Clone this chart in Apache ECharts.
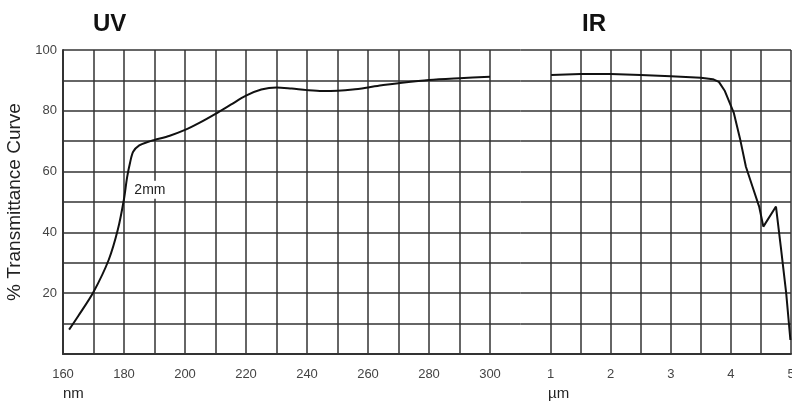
<!DOCTYPE html>
<html><head><meta charset="utf-8">
<script src="https://cdn.jsdelivr.net/npm/echarts@6/dist/echarts.min.js"></script>
<style>html,body{margin:0;padding:0;background:#fff}#c{width:792px;height:404px}</style>
</head><body><div id="c"></div>
<script>
// UV region: wavelength (nm) vs % transmittance
const uvWavelength = [162,165,170,175,178,180,181,182,183,185,188,190,195,200,205,210,215,220,225,230,235,240,245,250,255,260,265,270,280,290,300];
const uvTransmit   = [8,12.5,20.4,31,41,51,58,63,66.5,68.6,69.8,70.4,71.8,73.7,76.2,79,82,85,87,87.7,87.3,86.8,86.5,86.6,87,87.7,88.5,89.1,90.1,90.7,91.2];
// IR region: wavelength (µm) vs % transmittance
const irWavelength = [1.01,1.5,2,2.5,3,3.5,3.7,3.8,3.9,4.05,4.15,4.25,4.36,4.47,4.54,4.75,4.83,4.92,4.99];
const irTransmit   = [91.8,92.1,92.1,91.8,91.4,90.9,90.4,89.5,86.5,79.2,71,61.6,55,48.5,41.9,48.5,35.3,20,4.6];
const uvTickLabels = [160,180,200,220,240,260,280,300];
const irTickLabels = [1,2,3,4,5];
const yTickLabels  = [20,40,60,80,100];
const annotation = {text:'2mm', x:188.5, y:54};

const gridColor = '#333';
const labelFont = {color:'#444', fontSize:13, fontFamily:'Liberation Sans, Arial, sans-serif'};
const chart = echarts.init(document.getElementById('c'), null, {renderer:'canvas'});
chart.setOption({
  animation:false,
  backgroundColor:'#fff',
  grid:[
    {left:63, top:50, width:457.5, height:304, containLabel:false, outerBoundsMode:'none'},
    {left:520.5, top:50, width:270.5, height:304, containLabel:false, outerBoundsMode:'none'}
  ],
  xAxis:[
    {gridIndex:0, type:'value', min:160, max:310, interval:10,
     axisLine:{show:true, lineStyle:{color:gridColor, width:2}}, axisTick:{show:false},
     splitLine:{show:true, showMaxLine:false, lineStyle:{color:gridColor, width:1.5}},
     axisLabel:Object.assign({margin:14, formatter:v=>uvTickLabels.includes(v)?String(v):''}, labelFont)},
    {gridIndex:1, type:'value', min:0.5, max:5, interval:0.5,
     axisLine:{show:true, lineStyle:{color:gridColor, width:2}}, axisTick:{show:false},
     splitLine:{show:true, showMinLine:false, lineStyle:{color:gridColor, width:1.5}},
     axisLabel:Object.assign({margin:14, showMinLabel:false, formatter:v=>irTickLabels.includes(v)?String(v):''}, labelFont)}
  ],
  yAxis:[
    {gridIndex:0, type:'value', min:0, max:100, interval:10,
     axisLine:{show:true, lineStyle:{color:gridColor, width:2}}, axisTick:{show:false},
     splitLine:{show:true, lineStyle:{color:gridColor, width:1.5}},
     axisLabel:Object.assign({margin:6, formatter:v=>yTickLabels.includes(v)?String(v):''}, labelFont),
     name:'% Transmittance Curve', nameLocation:'middle', nameGap:36, nameRotate:90,
     nameTextStyle:{fontSize:19, color:'#222', fontFamily:'Liberation Sans, Arial, sans-serif'}},
    {gridIndex:1, type:'value', min:0, max:100, interval:10,
     axisLine:{show:false}, axisTick:{show:false}, axisLabel:{show:false},
     splitLine:{show:true, lineStyle:{color:gridColor, width:1.5}}}
  ],
  series:[
    {type:'line', xAxisIndex:0, yAxisIndex:0, smooth:0.3, showSymbol:false,
     lineStyle:{color:'#111', width:2},
     data:uvWavelength.map((w,i)=>[w,uvTransmit[i]]),
     markPoint:{symbol:'rect', symbolSize:1, itemStyle:{color:'rgba(0,0,0,0)'},
       label:{show:true, position:'inside', formatter:annotation.text, color:'#222', fontSize:14,
              backgroundColor:'#fff', padding:[2,3], fontFamily:'Liberation Sans, Arial, sans-serif'},
       data:[{coord:[annotation.x, annotation.y]}]}},
    {type:'line', xAxisIndex:1, yAxisIndex:1, smooth:false, showSymbol:false,
     lineStyle:{color:'#111', width:2},
     data:irWavelength.map((w,i)=>[w,irTransmit[i]])}
  ],
  graphic:[
    {type:'text', left:93, top:12, style:{text:'UV', fontSize:24, fontWeight:'bold', fill:'#111', fontFamily:'Liberation Sans, Arial, sans-serif'}},
    {type:'text', left:582, top:12, style:{text:'IR', fontSize:24, fontWeight:'bold', fill:'#111', fontFamily:'Liberation Sans, Arial, sans-serif'}},
    {type:'text', left:63, top:386, style:{text:'nm', fontSize:15, fill:'#222', fontFamily:'Liberation Sans, Arial, sans-serif'}},
    {type:'text', left:548, top:386, style:{text:'µm', fontSize:15, fill:'#222', fontFamily:'Liberation Sans, Arial, sans-serif'}}
  ]
});
</script></body></html>
